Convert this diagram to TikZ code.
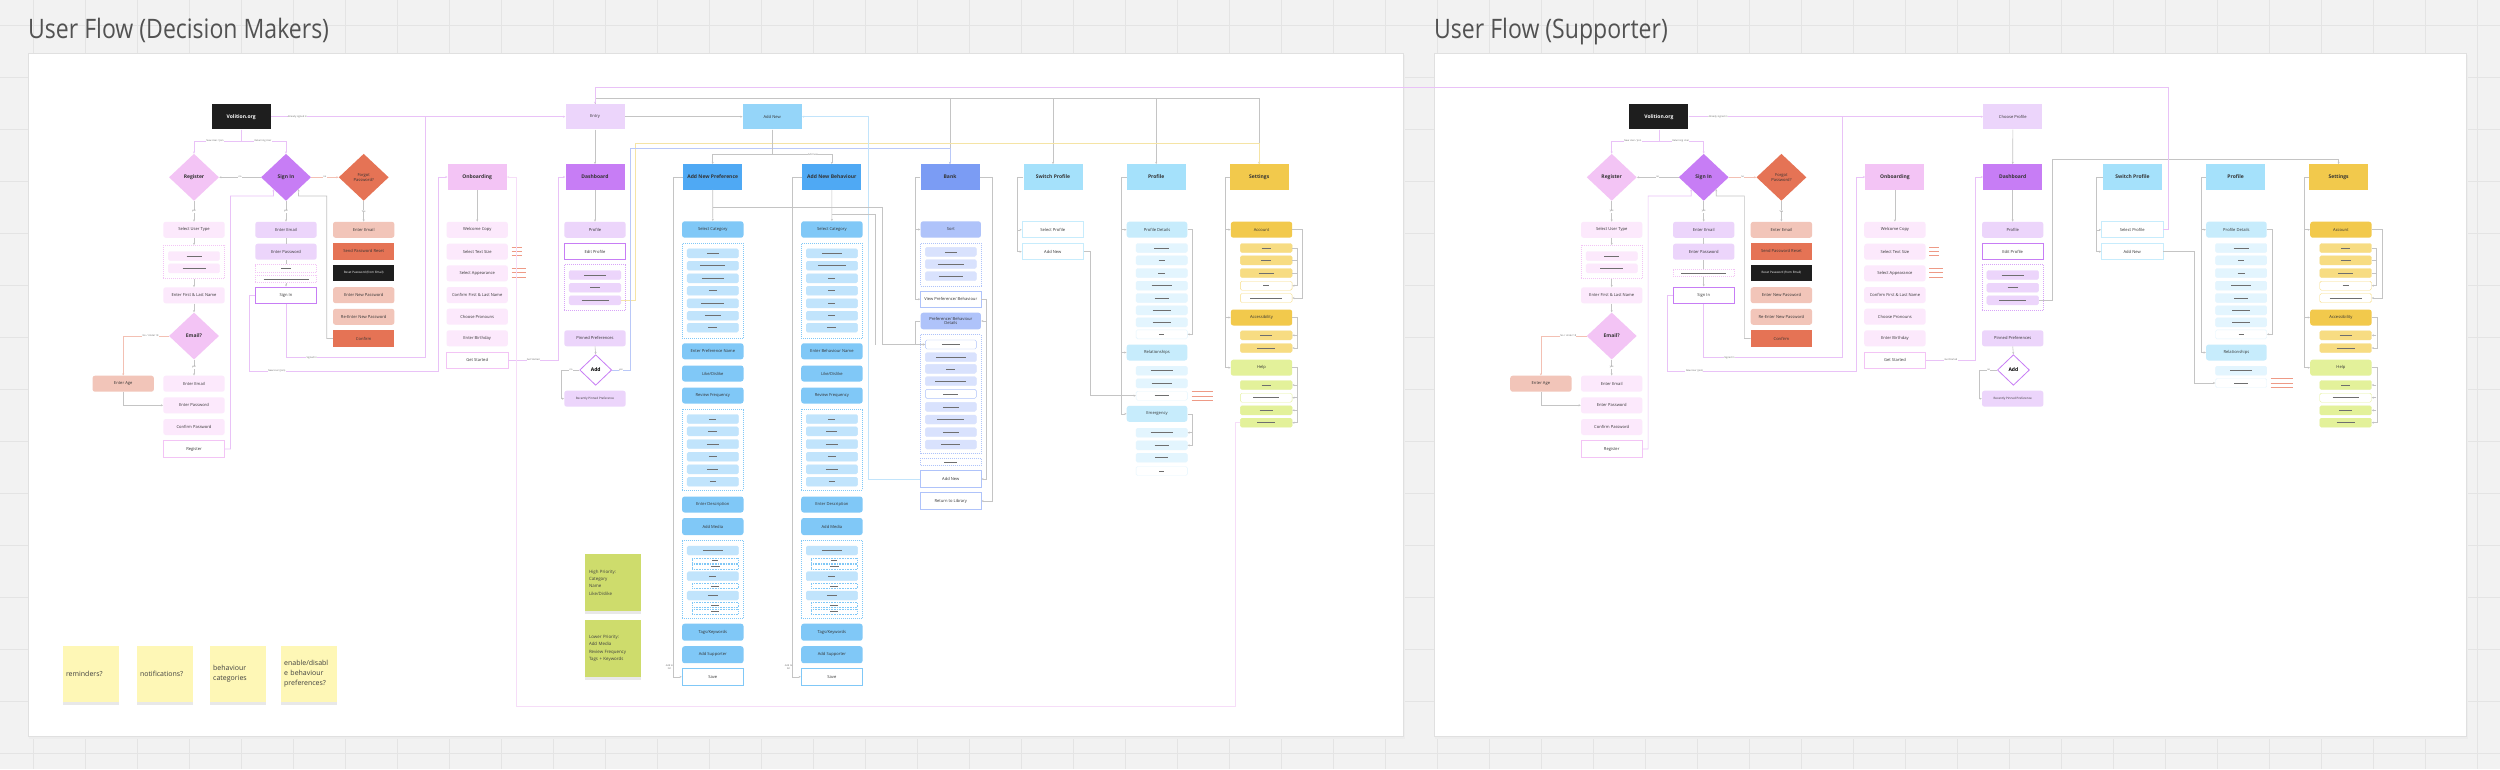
\documentclass[tikz,border=0pt]{standalone}
\usepackage{fontspec}
\setmainfont{Open Sans}
\newfontfamily\titlefont[FakeStretch=0.86]{Open Sans}
\usetikzlibrary{shapes.geometric,arrows.meta,shadows}
\definecolor{cBg}{HTML}{F2F2F2}
\definecolor{cGrid}{HTML}{E4E4E4}
\definecolor{cVb}{HTML}{1E1E1E}
\definecolor{cLav}{HTML}{ECD5FB}
\definecolor{cPkL}{HTML}{FCE9FC}
\definecolor{cPkD}{HTML}{F3C4F5}
\definecolor{cPurp}{HTML}{C77DF5}
\definecolor{cCoral}{HTML}{E57355}
\definecolor{cSalm}{HTML}{F2C5B9}
\definecolor{cAnew}{HTML}{95D5F9}
\definecolor{cPrH}{HTML}{4FA9F4}
\definecolor{cPrI}{HTML}{80C8F7}
\definecolor{cPrS}{HTML}{C1E4FC}
\definecolor{cBkH}{HTML}{7B9CF4}
\definecolor{cBkI}{HTML}{AFC3FA}
\definecolor{cBkS}{HTML}{D9E2FD}
\definecolor{cCyH}{HTML}{A5E1FB}
\definecolor{cCyI}{HTML}{C7ECFC}
\definecolor{cCyS}{HTML}{E3F5FE}
\definecolor{cYeH}{HTML}{F2C94C}
\definecolor{cYeS}{HTML}{F7DC82}
\definecolor{cLime}{HTML}{E3F19A}
\definecolor{cStk}{HTML}{FEF7B6}
\definecolor{cGrn}{HTML}{CEDC6C}
\definecolor{cLn}{HTML}{C4C4C4}
\definecolor{cLnP}{HTML}{E9C2F7}
\definecolor{cLnP2}{HTML}{F6DDF8}
\definecolor{cLnS}{HTML}{F3C0B3}
\definecolor{cLnY}{HTML}{F5E4A5}
\definecolor{cLnB}{HTML}{B9C8F8}
\definecolor{cLnLB}{HTML}{C2E4FB}
\definecolor{cSalLn}{HTML}{EE9A86}
\definecolor{cPl}{HTML}{6E6E6E}
\definecolor{cTxt}{HTML}{333333}
\newif\ifrightpanel
\newcommand{\hf}{\bfseries\fontsize{5}{6}\selectfont}
\newcommand{\itf}{\fontsize{4.1}{4.8}\selectfont}
\newcommand{\smf}{\fontsize{3}{3.6}\selectfont}
\newcommand{\lbf}{\fontsize{2.4}{2.8}\selectfont}
\newcommand{\pl}[1]{{\color{cPl}\rule{#1pt}{0.6pt}}}
\newcommand{\subs}[4]{\foreach \w/\yy/\ff/\dd [count=\i] in {#4}{\node[sub, fill=\ff, draw=\dd, minimum width=#3pt] (#1\i) at (#2,\yy) {\pl{\w}};}}
\tikzset{
 hdr/.style={rectangle, minimum width=59pt, minimum height=25.4pt, inner sep=0pt, font=\hf, align=center, text=cTxt},
 itm/.style={rectangle, rounded corners=2.5pt, minimum width=61.4pt, minimum height=16pt, inner sep=0.5pt, font=\itf, align=center, text=cTxt},
 btn/.style={itm, rounded corners=0pt, fill=white, line width=0.8pt},
 sub/.style={rectangle, rounded corners=1.5pt, minimum height=9pt, inner sep=0pt},
 grp/.style={rectangle, draw, dash pattern=on 1pt off 1pt, line width=0.6pt, minimum width=61.4pt, inner sep=0pt},
 dmd/.style={diamond, minimum width=50pt, minimum height=47pt, inner sep=0pt, font=\hf, align=center, text=cTxt},
 ln/.style={draw=cLn, line width=0.6pt},
 lnP/.style={draw=cLnP, line width=0.7pt},
 lnP2/.style={draw=cLnP2, line width=0.7pt},
 lnS/.style={draw=cLnS, line width=0.7pt},
 lnY/.style={draw=cLnY, line width=0.7pt},
 lnB/.style={draw=cLnB, line width=0.7pt},
 lnLB/.style={draw=cLnLB, line width=0.8pt},
 arw/.style={-{Stealth[length=2.2pt,width=2pt]}},
 lbl/.style={font=\lbf, fill=white, inner sep=0.3pt, text=black!60},
 note/.style={rectangle, minimum width=56pt, minimum height=56.6pt, text width=50pt, align=left, inner sep=0pt, text=black!75, drop shadow={shadow xshift=0pt, shadow yshift=-2.5pt, opacity=0.18}},
}
% ---------- auth + onboarding + dashboard block ----------
\newcommand{\authblock}{%
\node[hdr, fill=cVb, text=white] (vol) at (241.2,116.7) {Volition.org};
\node[dmd, fill=cPkD] (reg) at (194,177.3) {Register};
\node[dmd, fill=cPurp] (sin) at (286,177.3) {Sign In};
\node[dmd, fill=cCoral, font=\itf] (fgt) at (363.7,177.3) {Forgot\\Password?};
\node[itm, fill=cPkL] (rut) at (194,229.8) {Select User Type};
\node[grp, draw=cPkD, minimum height=33.4pt] (rg) at (194,262) {};
\subs{rs}{194}{51.4}{15/256/cPkL/cPkL, 23/268.3/cPkL/cPkL}
\node[itm, fill=cPkL] (rfl) at (194,295.3) {Enter First \& Last Name};
\node[dmd, fill=cPkD] (eml) at (194,336) {Email?};
\node[itm, fill=cPkL] (rem) at (194,383.7) {Enter Email};
\node[itm, fill=cPkL] (rpw) at (194,405.3) {Enter Password};
\node[itm, fill=cPkL] (rcp) at (194,427) {Confirm Password};
\node[btn, draw=cPkD, minimum height=16.6pt] (rbtn) at (194,449) {Register};
\node[itm, fill=cSalm] (age) at (123.2,383.7) {Enter Age};
\node[itm, fill=cLav] (sem) at (286,229.8) {Enter Email};
\node[itm, fill=cLav] (spw) at (286,251.7) {Enter Password};
\ifrightpanel
 \node[grp, draw=cPkD, minimum height=7.7pt] (sd1) at (286,272.8) {\pl{45}};
 \coordinate (sdl) at (sd1.south);
\else
 \node[grp, draw=cPkD, minimum height=8pt] (sd1) at (286,268.7) {\pl{10}};
 \node[grp, draw=cPkD, minimum height=7.4pt] (sd2) at (286,279) {\pl{45}};
 \coordinate (sdl) at (sd2.south);
\fi
\node[btn, draw=cPurp, minimum height=16.6pt] (sbtn) at (286,295.2) {Sign In};
\node[itm, fill=cSalm] (fem) at (363.7,229.8) {Enter Email};
\node[itm, rounded corners=0pt, fill=cCoral, minimum height=16.7pt] (fsr) at (363.7,251.4) {Send Password Reset};
\node[itm, rounded corners=0pt, fill=cVb, text=white, font=\smf, minimum height=16.7pt] (frp) at (363.7,273) {Reset Password (from Email)};
\node[itm, fill=cSalm] (fnp) at (363.7,295.2) {Enter New Password};
\node[itm, fill=cSalm] (frn) at (363.7,316.8) {Re-Enter New Password};
\node[itm, rounded corners=0pt, fill=cCoral, minimum height=16.7pt] (fcf) at (363.7,338.5) {Confirm};
\node[hdr, fill=cPkD] (onb) at (477.2,177) {Onboarding};
\node[itm, fill=cPkL] (o1) at (477.2,229.8) {Welcome Copy};
\node[itm, fill=cPkL] (o2) at (477.2,251.7) {Select Text Size};
\node[itm, fill=cPkL] (o3) at (477.2,273.3) {Select Appearance};
\node[itm, fill=cPkL] (o4) at (477.2,295) {Confirm First \& Last Name};
\node[itm, fill=cPkL] (o5) at (477.2,316.7) {Choose Pronouns};
\node[itm, fill=cPkL] (o6) at (477.2,338.3) {Enter Birthday};
\node[btn, draw=cPkD] (ogs) at (477.2,360) {Get Started};
\foreach \yy in {247.3,251.5,255.7} \draw[cSalLn, line width=0.7pt] (511.7,\yy) -- ++(10,0);
\foreach \yy in {268.7,272.8,277} \draw[cSalLn, line width=0.7pt] (511.7,\yy) -- ++(14,0);
\node[hdr, fill=cPurp] (dsh) at (595,177) {Dashboard};
\node[itm, fill=cLav] (dpr) at (595,229.8) {Profile};
\node[btn, draw=cPurp] (dep) at (595,251.7) {Edit Profile};
\node[grp, draw=cPurp!70, minimum height=46.4pt] (dg) at (595,287.5) {};
\subs{d}{595}{51.7}{22/275/cLav/cLav, 10/287.7/cLav/cLav, 27/300.3/cLav/cLav}
\node[itm, fill=cLav] (dpin) at (595,338.3) {Pinned Preferences};
\node[diamond, draw=cPurp, fill=white, line width=0.8pt, minimum width=32pt, minimum height=30.6pt, inner sep=0pt, font=\hf] (dadd) at (595.7,370) {Add};
\node[itm, fill=cLav, font=\smf] (drec) at (595,398.7) {Recently Pinned Preference};
% connectors
\draw[lnP, arw] (vol.south) -- ++(0,11.4) -| (reg.north);
\draw[lnP, arw] (vol.south) -- ++(0,11.4) -| (sin.north);
\node[lbl] (l1) at (215,140.7) {New User / Join};
\node[lbl] (l2) at (263,140.7) {Returning User};
\draw[ln, arw] (sin.west) -- (reg.east) node[lbl, midway] (l3) {no};
\draw[lnS, arw] (sin.east) -- (fgt.west) node[lbl, midway] (l4) {no};
\draw[ln, arw] (reg.south) -- (rut.north) node[lbl, midway] (l5) {yes};
\draw[ln, arw] (rut.south) -- (rg.north);
\draw[ln, arw] (rg.south) -- (rfl.north);
\draw[ln, arw] (rfl.south) -- (eml.north);
\draw[ln, arw] (eml.south) -- (rem.north) node[lbl, midway] (l6) {yes};
\draw[lnS, arw] (eml.west) -| (age.north) node[lbl, pos=0.2] (l7) {No / Under 18};
\draw[ln, arw] (age.south) |- (rpw.west);
\draw[lnP, arw] (rbtn.east) -- ++(5.3,0) |- (273.5,196) -- (sin.south west);
\draw[ln, arw] (sin.south) -- (sem.north) node[lbl, midway] (l8) {yes};
\draw[ln] (sem.south) -- (spw.north);
\draw[ln] (spw.south) -- (sd1.north);
\draw[ln, arw] (sdl) -- (sbtn.north);
\draw[lnP] (sbtn.south) |- (425,357.7) -- (425,116.7);
\node[lbl] (l9) at (311.7,357.7) {Signed In};
\draw[lnP, arw] (sbtn.west) -- ++(-5.3,0) |- (438.3,371) |- (onb.west);
\node[lbl] (l10) at (276.7,371) {New User (Join)};
\draw[ln, arw] (fcf.west) -| (326.7,196) -- (298.5,196) -- (sin.south east);
\draw[ln, arw] (fgt.south) -- (fem.north) node[lbl, midway] (l11) {Yes};
\draw[ln, arw] (onb.south) -- (o1.north);
\draw[lnP, arw] (ogs.east) -- ++(49.6,0) |- (dsh.west);
\node[lbl] (l12) at (533.3,360) {Get Started};
\draw[ln, arw] (dsh.south) -- (dpr.north);
\draw[ln, arw] (dpin.south) -- (dadd.north);
\draw[ln, arw] (dadd.west) -- ++(-18,0) |- (drec.west);
\node[lbl] (l13) at (571,370) {no};
}
% ---------- preference / behaviour column ----------
\newcommand{\prefcol}[4]{%
\node[hdr, fill=cPrH] (pfh) at (712.7,177) {#1};
\node[itm, fill=cPrI, minimum height=16.4pt] (psc) at (712.8,229.5) {Select Category};
\node[grp, draw=cPrI, minimum height=95pt] (pg1) at (712.8,290.8) {};
\subs{pa}{712.8}{51.4}{#3}
\node[itm, fill=cPrI] (ppn) at (712.8,351.3) {#2};
\node[itm, fill=cPrI] (pld) at (712.8,373.5) {Like/Dislike};
\node[itm, fill=cPrI] (prf) at (712.8,395.5) {Review Frequency};
\node[grp, draw=cPrI, minimum height=81pt] (pg2) at (712.8,449.5) {};
\subs{pb}{712.8}{51.4}{#4}
\node[itm, fill=cPrI] (ped) at (712.8,504.5) {Enter Description};
\node[itm, fill=cPrI, minimum height=17pt] (pam) at (712.8,526.5) {Add Media};
\node[grp, draw=cPrI, minimum height=78.4pt] (pg3) at (712.8,579.5) {};
\subs{pc}{712.8}{51.4}{20/550.5/cPrS/cPrS, 7/576.2/cPrS/cPrS, 10/595.5/cPrS/cPrS}
\foreach \yy/\w [count=\k] in {560.3/6, 566.7/9, 586/8, 605/8, 611.3/8}
  \node[sub, minimum width=46pt, minimum height=4.8pt, rounded corners=0pt, fill=white, draw=cPrI, dash pattern=on 0.8pt off 0.8pt] (pe\k) at (715.3,\yy) {\pl{\w}};
\node[itm, fill=cPrI, minimum height=17pt] (ptk) at (712.8,632.2) {Tags/Keywords};
\node[itm, fill=cPrI, minimum height=17pt] (pas) at (712.8,654.7) {Add Supporter};
\node[btn, draw=cPrI, minimum height=17pt] (psv) at (712.8,676.8) {Save};
\draw[ln, arw] (pfh.south) -- (psc.north);
\draw[ln, arw] (pfh.west) -- ++(-9.7,0) |- (psv.west);
\node[lbl, align=center, fill=none] (plb) at (669.5,667) {Add to\\list};
}
% ---------- switch profile ----------
\newcommand{\switchcol}{%
\node[hdr, fill=cCyH] (swh) at (1053,177) {Switch Profile};
\node[btn, draw=cCyI] (ssp) at (1052.8,229.8) {Select Profile};
\node[btn, draw=cCyI] (san) at (1052.8,251.7) {Add New};
\draw[ln, arw] (swh.west) -- ++(-6,0) |- (san.west);
\draw[ln, arw] (1017.5,229.8) -- (ssp.west);
}
% ---------- profile ----------
\newcommand{\profcol}{%
\node[hdr, fill=cCyH] (prh) at (1156.2,177) {Profile};
\node[itm, fill=cCyI, minimum width=60.6pt] (pd) at (1157,229.7) {Profile Details};
\subs{pd}{1161.7}{51.3}{15/248/cCyS/cCyS, 6/260.3/cCyS/cCyS, 7/273/cCyS/cCyS, 20/285.7/cCyS/cCyS, 14/298/cCyS/cCyS, 18/310.3/cCyS/cCyS, 18/322.3/cCyS/cCyS, 5/334.3/white/cCyS}
\node[itm, fill=cCyI, minimum width=60.6pt] (rel) at (1157,352.5) {Relationships};
\ifrightpanel
 \subs{rl}{1161.7}{51.3}{22/370.7/cCyS/cCyS, 14/383/white/cCyS}
 \foreach \yy in {378.3,383.3,387.3} \draw[cSalLn, line width=0.7pt] (1191.3,\yy) -- ++(22.6,0);
 \draw[ln, arw] (prh.west) -- ++(-5,0) |- (rel.west);
\else
 \subs{rl}{1161.7}{51.3}{22/370.7/cCyS/cCyS, 20/383.3/cCyS/cCyS, 14/395.7/white/cCyS}
 \foreach \yy in {391,396,400} \draw[cSalLn, line width=0.7pt] (1191.7,\yy) -- ++(21.6,0);
 \node[itm, fill=cCyI, minimum width=60.6pt] (em) at (1157,413.8) {Emergency};
 \subs{em}{1161.7}{51.3}{22/432.7/cCyS/cCyS, 14/445.3/cCyS/cCyS, 13/457.7/cCyS/cCyS, 5/471/white/cCyS}
 \draw[ln, arw] (prh.west) -- ++(-5,0) |- (em.west);
 \draw[ln, arw] (1121.7,352.5) -- (rel.west);
 \draw[ln, arw] (em.east) -- ++(5,0) |- (em2.east);
 \draw[ln, arw] (1192.3,432.7) -- (em1.east);
\fi
\draw[ln, arw] (1121.7,229.7) -- (pd.west);
\draw[ln, arw] (pd.east) -- ++(5,0) |- (pd8.east);
}
% ---------- settings ----------
\newcommand{\setcol}{%
\node[hdr, fill=cYeH] (seh) at (1259.2,177) {Settings};
\node[itm, fill=cYeH] (acc) at (1261.5,229.7) {Account};
\subs{a}{1266.2}{51.7}{9/248/cYeS/cYeS, 10/260.3/cYeS/cYeS, 15/273/cYeS/cYeS, 6/285.7/white/cYeS, 32/298/white/cYeS}
\node[itm, fill=cYeH] (acs) at (1261.5,317.5) {Accessibility};
\subs{c}{1266.2}{51.7}{12/335.3/cYeS/cYeS, 18/348/cYeS/cYeS}
\node[itm, fill=cLime] (hlp) at (1261.5,367.7) {Help};
\subs{h}{1266.2}{51.7}{9/385/cLime/cLime, 26/397.7/white/cLime, 13/410.3/cLime/cLime, 18/422.7/cLime/cLime}
\draw[ln, arw] (seh.west) -- ++(-4.7,0) |- (hlp.west);
\draw[ln, arw] (1225,229.7) -- (acc.west);
\draw[ln, arw] (1225,317.5) -- (acs.west);
\draw[ln, arw] (acc.east) -- ++(10.3,0) |- (a5.east);
\draw[ln, arw] (a1.east) -- ++(5,0) |- (a4.east);
\draw[ln] (1297,260.3) -- (a2.east);
\draw[ln] (1297,273) -- (a3.east);
\draw[ln, arw] (acs.east) -- ++(5,0) |- (c2.east);
\draw[ln, arw] (1297,335.3) -- (c1.east);
\draw[ln, arw] (hlp.east) -- ++(5,0) |- (h4.east);
\foreach \k/\yy in {1/385,2/397.7,3/410.3} \draw[ln, arw] (1297,\yy) -- (h\k.east);
}
\begin{document}
\begin{tikzpicture}[x=1pt,y=-1pt]
\useasboundingbox (0,0) rectangle (2500,769);
\fill[cBg] (0,0) rectangle (2500,769);
\foreach \x in {33,85,...,2500} \draw[cGrid, line width=0.7pt] (\x,0) -- (\x,769);
\foreach \y in {25,77,...,769} \draw[cGrid, line width=0.7pt] (0,\y) -- (2500,\y);
% panels
\fill[black!7] (29,55) rectangle (1405,738.5);
\filldraw[fill=white, draw=black!12, line width=0.8pt] (28,53) rectangle (1403,736);
\fill[black!7] (1435,55) rectangle (2468,738.5);
\filldraw[fill=white, draw=black!12, line width=0.8pt] (1434,53) rectangle (2466,736);
\node[anchor=base west, inner sep=0pt, font=\titlefont\fontsize{26.8}{30}\selectfont, text=black!68] (t1) at (28,38) {User Flow (Decision Makers)};
\node[anchor=base west, inner sep=0pt, font=\titlefont\fontsize{26.8}{30}\selectfont, text=black!68] (t2) at (1434,38) {User Flow (Supporter)};
% ===== LEFT PANEL =====
\rightpanelfalse
\authblock
\node[hdr, fill=cLav, font=\itf] (ent) at (595,116.7) {Entry};
\node[hdr, fill=cAnew, font=\itf] (anew) at (772.2,116.7) {Add New};
\prefcol{Add New Preference}{Enter Preference Name}{12/253.3/cPrS/cPrS, 25/265.7/cPrS/cPrS, 22/278.3/cPrS/cPrS, 8/290.7/cPrS/cPrS, 23/303.3/cPrS/cPrS, 16/315.7/cPrS/cPrS, 9/327.7/cPrS/cPrS}{7/419/cPrS/cPrS, 9/431.3/cPrS/cPrS, 12/444/cPrS/cPrS, 8/456.7/cPrS/cPrS, 11/469.3/cPrS/cPrS, 6/481.7/cPrS/cPrS}
\begin{scope}[xshift=119.1pt, name prefix=b-]
\prefcol{Add New Behaviour}{Enter Behaviour Name}{20/253.3/cPrS/cPrS, 28/265.7/cPrS/cPrS, 7/278.3/cPrS/cPrS, 7/290.7/cPrS/cPrS, 7/303.3/cPrS/cPrS, 7/315.7/cPrS/cPrS, 9/327.7/cPrS/cPrS}{7/419/cPrS/cPrS, 11/431.3/cPrS/cPrS, 12/444/cPrS/cPrS, 8/456.7/cPrS/cPrS, 12/469.3/cPrS/cPrS, 6/481.7/cPrS/cPrS}
\end{scope}
% bank
\node[hdr, fill=cBkH] (bh) at (950,177) {Bank};
\node[itm, fill=cBkI, minimum width=60.3pt, minimum height=16.4pt] (bsort) at (950.8,229.5) {Sort};
\node[grp, draw=cBkI, minimum width=60.3pt, minimum height=42.7pt] (bg1) at (950.8,264.7) {};
\subs{bs}{950.8}{51}{12/251.8/cBkS/cBkS, 26/264/cBkS/cBkS, 24/276.2/cBkS/cBkS}
\node[btn, draw=cBkI, minimum width=60.3pt, minimum height=16.3pt] (bview) at (950.8,299.2) {View Preference/ Behaviour};
\node[itm, fill=cBkI, minimum width=60.3pt, minimum height=16.6pt] (bdet) at (950.8,321) {Preference/ Behaviour\\Details};
\node[grp, draw=cBkI, minimum width=60.3pt, minimum height=119pt] (bg2) at (950.8,393.8) {};
\subs{bd}{950.8}{51}{18/344.5/white/cBkI, 30/357.2/cBkS/cBkS, 9/368.8/cBkS/cBkS, 31/381.2/cBkS/cBkS, 15/393.8/white/cBkI, 16/406.8/cBkS/cBkS, 27/419.5/cBkS/cBkS, 16/432.2/cBkS/cBkS, 19/444.5/cBkS/cBkS}
\node[grp, draw=cBkI, minimum width=60.3pt, minimum height=7.4pt] (bdsh) at (950.8,462) {\pl{13}};
\node[btn, draw=cBkI, minimum width=60.3pt, minimum height=16.6pt] (badd) at (950.8,479) {Add New};
\node[btn, draw=cBkI, minimum width=60.3pt, minimum height=16.6pt] (bret) at (950.8,501) {Return to Library};
\switchcol
\profcol
\setcol
% left global connectors
\draw[lnP, arw] (vol.east) -- (ent.west) node[lbl, pos=0.09] (l20) {Already signed in};
\draw[ln, arw] (ent.south) -- (dsh.north);
\draw[ln, arw] (ent.east) -- (anew.west);
\draw[ln, arw] (ent.north) -- ++(0,-5.7) -| (seh.north);
\foreach \n in {bh,swh,prh} \draw[ln, arw] (\n.north |- 0,98.3) -- (\n.north);
\draw[lnY, arw] (d3.east) -- ++(14.2,0) |- (seh.north |- 0,143.3) -- (seh.north);
\draw[lnB, arw] (dadd.east) -- ++(18.3,0) |- (bh.north |- 0,148.7) -- (bh.north);
\node[lbl] (l21) at (621,370) {yes};
\draw[lnLB, arw] (badd.west) -- ++(-51.4,0) |- (anew.east);
\draw[ln, arw] (anew.south) -- ++(0,25) -| (pfh.north);
\draw[ln, arw] (anew.south) -- ++(0,25) -| (b-pfh.north);
\node[lbl] (l22) at (813,154.3) {Add new};
\draw[ln, arw] (712.7,207.7) -| (882.3,344.5) -- (bd1.west);
\draw[ln] (831.8,214.3) -| (875,344.5);
\draw[ln, arw] (bh.west) -- ++(-5.4,0) |- (bview.west);
\draw[ln, arw] (915.3,229.5) -- (bsort.west);
\draw[ln, arw] (bh.east) -- ++(12.4,0) |- (bret.east);
\draw[ln, arw] (bview.east) -- ++(5,0) |- (badd.east);
\draw[ln, arw] (986,321) -- (bdet.east);
\draw[ln, arw] (bdet.west) -- ++(-5.4,0) |- (bd1.west);
\draw[ln, arw] (san.east) -- ++(6.7,0) |- (rl3.west);
\draw[lnP2, arw] (h4.west) -- ++(-5.3,0) |- (516.7,706) |- (onb.east);
% ===== RIGHT PANEL =====
\begin{scope}[xshift=1417.7pt, name prefix=R-]
\rightpaneltrue
\authblock
\end{scope}
\begin{scope}[xshift=1079.4pt, name prefix=R-]
\rightpaneltrue
\switchcol
\profcol
\setcol
\end{scope}
\node[hdr, fill=cLav, font=\itf] (R-cp) at (2012.8,116.7) {Choose Profile};
\draw[lnP, arw] (R-vol.east) -- (R-cp.west) node[lbl, pos=0.1] (l30) {Already signed in};
\draw[ln, arw] (R-cp.south) -- (R-dsh.north);
\draw[ln, arw] (R-d3.east) -- ++(14,0) |- (R-seh.north |- 0,159.3) -- (R-seh.north);
\draw[ln, arw] (R-san.east) -- ++(31.3,0) |- (R-rl2.west);
\draw[lnP, arw] (R-ssp.east) -- ++(5,0) |- (595,87) -- (ent.north);
% ===== sticky notes =====
\node[note, fill=cStk, font=\fontsize{7}{10}\selectfont] (n1) at (91,674) {reminders?};
\node[note, fill=cStk, font=\fontsize{7}{10}\selectfont] (n2) at (165,674) {notifications?};
\node[note, fill=cStk, font=\fontsize{7}{10}\selectfont] (n3) at (238.2,674) {behaviour\\categories};
\node[note, fill=cStk, font=\fontsize{7}{10}\selectfont] (n4) at (309.2,674) {enable/disabl\\e behaviour\\preferences?};
\node[note, fill=cGrn, font=\fontsize{4.4}{7.4}\selectfont, minimum height=57pt, text width=47pt] (n5) at (612.5,582.5) {High Priority:\\Category\\Name\\Like/Dislike};
\node[note, fill=cGrn, font=\fontsize{4.4}{7.4}\selectfont, minimum height=57pt, text width=47pt] (n6) at (612.5,648.5) {Lower Priority:\\Add Media\\Review Frequency\\Tags + Keywords};
\end{tikzpicture}
\end{document}
